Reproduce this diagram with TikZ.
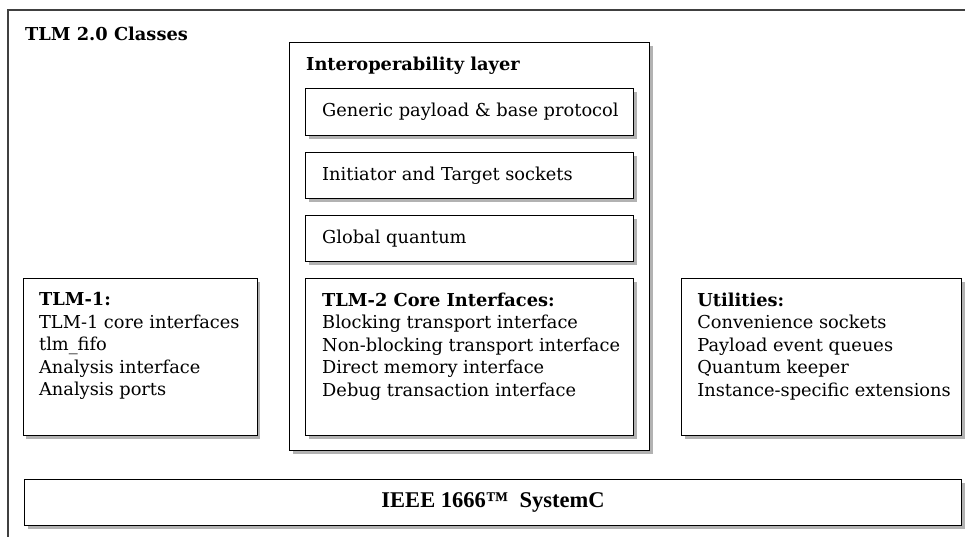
\documentclass[tikz,border=0pt]{standalone}
\usepackage{fontspec}
\setmainfont{DejaVu Serif}
\newfontfamily\timesfont{Liberation Serif}
\usetikzlibrary{positioning,shadows}
\newcommand{\bodysize}{\fontsize{17.8}{22.5}\selectfont}
\tikzset{box/.style = {draw, fill=white, line width=1.1pt, inner sep=0pt,
    drop shadow={shadow xshift=3pt, shadow yshift=-3pt, fill=black!30, opacity=1}}}
\tikzset{txt/.style = {inner sep=0pt, align=left}}
\tikzset{head/.style = {inner sep=0pt, anchor=base west, font=\bodysize\bfseries}}

\begin{document}
\begin{tikzpicture}[x=1pt, y=-1pt, font=\bodysize]
    \useasboundingbox (0,0) rectangle (965,536);
    \draw[black!75, line width=1.5pt] (8,10) rectangle (1000,580);
    \node[head] (classes) at (25,40) {TLM 2.0 Classes};

    % interoperability layer
    \node[box, anchor=north west, minimum width=360pt, minimum height=408pt] (interop) at (289,42) {};
    \node[head] (interoptitle) at (306,70) {Interoperability layer};

    \node[box, anchor=north west, minimum width=328pt, minimum height=47pt] (generic) at (305,88) {};
    \node[box, minimum width=328pt, minimum height=46pt, below=16pt of generic] (sockets) {};
    \node[box, minimum width=328pt, minimum height=46pt, below=16pt of sockets] (quantum) {};
    \node[box, minimum width=328pt, minimum height=157pt, below=16pt of quantum] (core2) {};

    \node[txt, right=17pt of generic.west] (generictxt) {Generic payload \& base protocol};
    \node[txt, right=17pt of sockets.west] (socketstxt) {Initiator and Target sockets};
    \node[txt, right=17pt of quantum.west] (quantumtxt) {Global quantum};
    \node[txt, right=17pt of core2.west, yshift=11pt] (core2txt) {\textbf{TLM-2 Core Interfaces:}\\
        Blocking transport interface\\Non-blocking transport interface\\
        Direct memory interface\\Debug transaction interface};

    % side boxes
    \node[box, minimum width=234pt, minimum height=157pt, left=47pt of core2] (tlm1) {};
    \node[box, minimum width=280pt, minimum height=157pt, right=47pt of core2] (utils) {};

    \node[txt, right=16pt of tlm1.west, yshift=11pt] (tlm1txt) {\textbf{TLM-1:}\\
        TLM-1 core interfaces\\tlm\_fifo\\Analysis interface\\Analysis ports};
    \node[txt, right=16pt of utils.west, yshift=11pt] (utilstxt) {\textbf{Utilities:}\\
        Convenience sockets\\Payload event queues\\Quantum keeper\\Instance-specific extensions};

    % SystemC
    \node[box, anchor=north west, minimum width=937pt, minimum height=46pt] (systemc) at (24,479) {};
    \node[txt, font=\timesfont\bfseries\fontsize{22.5}{26}\selectfont] (systemctxt) at (systemc.center)
        {IEEE 1666\texttrademark\ \ SystemC};
\end{tikzpicture}
\end{document}
